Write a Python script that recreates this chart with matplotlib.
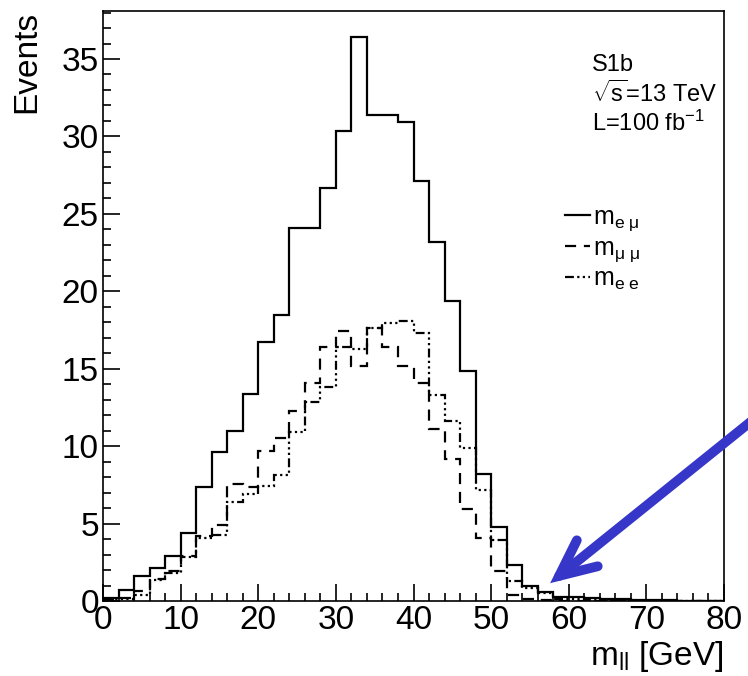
import numpy as np
import matplotlib
matplotlib.use("Agg")
import matplotlib.pyplot as plt
from matplotlib.ticker import MultipleLocator

# bin edges in GeV (2 GeV bins from 0 to 80)
bin_lo = 0
bin_hi = 80
bin_w = 2

# events per bin
m_emu = [0.2, 0.7, 1.6, 2.15, 2.9, 4.4, 7.35, 9.65, 11.0, 13.35,
         16.7, 18.45, 24.1, 24.1, 26.7, 30.35, 36.45, 31.4, 31.4, 30.95,
         27.1, 23.2, 19.4, 14.85, 8.2, 4.75, 2.35, 0.95, 0.6, 0.28,
         0.24, 0.17, 0.1, 0.1, 0.06, 0.05, 0.04, 0.03, 0.03, 0.02]
m_mumu = [0.05, 0.2, 0.65, 1.45, 1.95, 2.9, 4.2, 4.9, 7.55, 7.35,
          9.7, 10.5, 12.3, 14.05, 16.4, 17.45, 15.2, 17.6, 16.4, 15.15,
          14.1, 11.1, 9.2, 5.95, 4.1, 1.95, 0.4, 0.1, 0.05, 0.02,
          0.02, 0.01, 0.01, 0.0, 0.0, 0.0, 0.0, 0.0, 0.0, 0.0]
m_ee = [0.1, 0.15, 0.38, 1.35, 1.8, 2.85, 4.1, 4.25, 6.4, 6.9,
        7.4, 8.15, 10.9, 12.85, 13.85, 16.4, 16.3, 17.6, 17.95, 18.1,
        17.3, 13.3, 11.6, 9.85, 7.2, 3.95, 1.3, 0.83, 0.5, 0.15,
        0.1, 0.05, 0.03, 0.02, 0.02, 0.01, 0.01, 0.01, 0.01, 0.0]

labels = [r'$\mathrm{m}_{\mathrm{e}\ \mu}$', r'$\mathrm{m}_{\mu\ \mu}$', r'$\mathrm{m}_{\mathrm{e\ e}}$']
info = ["S1b", r"$\sqrt{\mathrm{s}}$=13 TeV", r"L=100 fb$^{-1}$"]

plt.rcParams['font.family'] = ['Liberation Sans', 'DejaVu Sans']
plt.rcParams['mathtext.fontset'] = 'custom'
plt.rcParams['mathtext.rm'] = 'Liberation Sans'
plt.rcParams['mathtext.it'] = 'Liberation Sans'
plt.rcParams['mathtext.sf'] = 'Liberation Sans'

edges = np.arange(bin_lo, bin_hi + bin_w, bin_w)

fig = plt.figure(figsize=(7.48, 6.76), dpi=100)
ax = fig.add_axes([103 / 748, 75 / 676, 621 / 748, 590 / 676])

lw = 1.6
ax.stairs(m_emu, edges, baseline=None, color='black', lw=lw, label=labels[0])
ax.stairs(m_mumu, edges, baseline=None, color='black', lw=lw,
          linestyle=(0, (5, 3.5)), label=labels[1])
ax.stairs(m_ee, edges, baseline=None, color='black', lw=lw,
          linestyle=(0, (4, 1.5, 1, 1.5, 1, 1.5, 1, 1.5)), label=labels[2])

ax.set_xlim(bin_lo, bin_hi)
ax.set_ylim(0, 38.1)

ax.xaxis.set_major_locator(MultipleLocator(10))
ax.xaxis.set_minor_locator(MultipleLocator(2))
ax.yaxis.set_major_locator(MultipleLocator(5))
ax.yaxis.set_minor_locator(MultipleLocator(1))
ax.tick_params(which='both', direction='in', top=False, right=False, width=1.2,
               labelsize=24)
ax.tick_params(which='major', length=12)
ax.tick_params(which='minor', length=6)
ax.tick_params(axis='x', pad=3)
ax.tick_params(axis='y', pad=3)
for s in ax.spines.values():
    s.set_linewidth(1.2)

ax.set_ylabel("Events", fontsize=24, loc='top', labelpad=14)
ax.set_xlabel(r"m$_{\mathrm{ll}}$ [GeV]", fontsize=24, loc='right', labelpad=2)

for i, t in enumerate(info):
    ax.text(0.788, 0.9085 - i * 0.049, t, transform=ax.transAxes, fontsize=17,
            va='center', ha='left')

leg = ax.legend(loc='upper left', bbox_to_anchor=(0.744, 0.671), frameon=False,
                fontsize=18, handlelength=1.0, handletextpad=0.1,
                labelspacing=0.1, borderpad=0, borderaxespad=0)

# blue arrow pointing at the tail
ax.annotate("", xy=(57.6, 1.15), xytext=(83.5, 11.6), xycoords='data',
            textcoords='data', annotation_clip=False,
            arrowprops=dict(arrowstyle='->,head_length=0.65,head_width=0.3',
                            mutation_scale=40, color='#3636c8', lw=7,
                            shrinkA=0, shrinkB=0, joinstyle='miter',
                            capstyle='round'))

fig.savefig("out.png", dpi=100)
